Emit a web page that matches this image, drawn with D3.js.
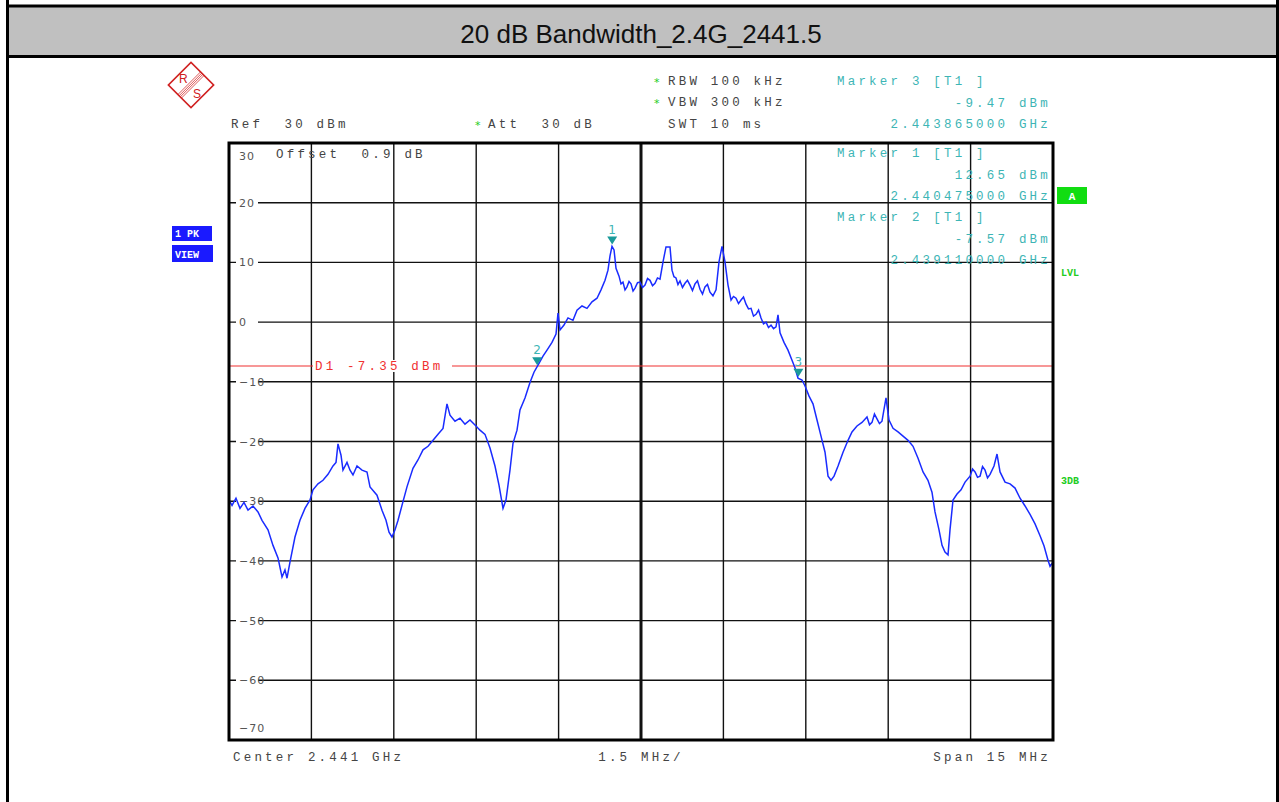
<!DOCTYPE html>
<html>
<head>
<meta charset="utf-8">
<script src="https://cdn.jsdelivr.net/npm/d3@7"></script>
<style>
  body { margin: 0; background: #fff; }
  svg { display: block; }
  .mono { font-family: "Liberation Mono", "DejaVu Sans Mono", monospace; font-size: 12.5px; letter-spacing: 3.2px; white-space: pre; }
</style>
</head>
<body>
<div id="chart"></div>
<script>
// Sweep settings
const centerMHz = 2441;
const spanMHz = 15;
const refLevel = 30;
const yTicks = [30, 20, 10, 0, -10, -20, -30, -40, -50, -60, -70];
const displayLine = -7.35;

// Trace (frequency in MHz, level in dBm)
const traceFreq = [
  2433.500, 2433.555, 2433.627, 2433.700, 2433.773, 2433.846, 2433.937, 2434.028, 2434.101, 2434.210,
  2434.301, 2434.392, 2434.465, 2434.519, 2434.556, 2434.610, 2434.701, 2434.792, 2434.883, 2434.975,
  2435.029, 2435.120, 2435.211, 2435.302, 2435.393, 2435.448, 2435.484, 2435.539, 2435.575, 2435.648,
  2435.703, 2435.757, 2435.830, 2435.921, 2436.012, 2436.067, 2436.194, 2436.285, 2436.358, 2436.413,
  2436.467, 2436.522, 2436.577, 2436.649, 2436.740, 2436.849, 2436.940, 2437.032, 2437.123, 2437.214,
  2437.305, 2437.396, 2437.468, 2437.523, 2437.614, 2437.705, 2437.796, 2437.887, 2437.996, 2438.069,
  2438.160, 2438.251, 2438.342, 2438.415, 2438.488, 2438.542, 2438.615, 2438.670, 2438.743, 2438.797,
  2438.888, 2438.979, 2439.052, 2439.125, 2439.216, 2439.289, 2439.380, 2439.453, 2439.489, 2439.526,
  2439.598, 2439.671, 2439.762, 2439.835, 2439.926, 2440.017, 2440.108, 2440.199, 2440.272, 2440.345,
  2440.399, 2440.436, 2440.472, 2440.509, 2440.545, 2440.600, 2440.636, 2440.672, 2440.709, 2440.745,
  2440.782, 2440.818, 2440.855, 2440.891, 2440.937, 2440.982, 2441.028, 2441.073, 2441.119, 2441.164,
  2441.210, 2441.255, 2441.300, 2441.346, 2441.401, 2441.455, 2441.528, 2441.564, 2441.600, 2441.637,
  2441.673, 2441.710, 2441.755, 2441.801, 2441.846, 2441.892, 2441.937, 2441.983, 2442.028, 2442.074,
  2442.120, 2442.165, 2442.210, 2442.256, 2442.310, 2442.366, 2442.420, 2442.475, 2442.529, 2442.584,
  2442.639, 2442.684, 2442.730, 2442.775, 2442.821, 2442.866, 2442.912, 2442.957, 2443.003, 2443.048,
  2443.094, 2443.140, 2443.185, 2443.230, 2443.276, 2443.321, 2443.367, 2443.412, 2443.458, 2443.494,
  2443.531, 2443.603, 2443.676, 2443.749, 2443.804, 2443.858, 2443.931, 2443.986, 2444.059, 2444.131,
  2444.204, 2444.277, 2444.350, 2444.405, 2444.459, 2444.514, 2444.587, 2444.678, 2444.769, 2444.841,
  2444.932, 2445.023, 2445.114, 2445.160, 2445.205, 2445.250, 2445.296, 2445.341, 2445.387, 2445.460,
  2445.515, 2445.588, 2445.679, 2445.770, 2445.861, 2445.952, 2446.043, 2446.134, 2446.224, 2446.297,
  2446.352, 2446.425, 2446.480, 2446.534, 2446.589, 2446.625, 2446.680, 2446.753, 2446.826, 2446.899,
  2446.990, 2447.035, 2447.081, 2447.126, 2447.172, 2447.217, 2447.263, 2447.308, 2447.354, 2447.426,
  2447.481, 2447.536, 2447.627, 2447.718, 2447.809, 2447.900, 2447.991, 2448.082, 2448.173, 2448.264,
  2448.337, 2448.409, 2448.446, 2448.500
];
const traceLevel = [
  -29.8, -30.7, -29.5, -31.2, -30.2, -31.5, -30.8, -31.8, -33.2, -34.8,
  -37.4, -39.5, -42.7, -41.5, -42.9, -40.2, -36.0, -33.2, -31.2, -29.8,
  -28.1, -27.1, -26.5, -25.5, -24.1, -23.5, -20.4, -22.3, -24.8, -23.5,
  -24.8, -25.6, -24.1, -24.8, -25.1, -27.6, -29.0, -31.5, -33.2, -35.2,
  -36.0, -34.8, -33.2, -30.7, -27.6, -24.5, -23.1, -21.4, -20.8, -19.8,
  -18.8, -17.8, -13.7, -15.6, -16.6, -16.1, -17.1, -16.4, -17.4, -18.1,
  -18.8, -21.1, -24.1, -27.3, -31.2, -29.8, -24.8, -20.3, -18.1, -14.7,
  -12.7, -10.1, -8.4, -7.2, -5.7, -4.7, -3.4, -2.0, 1.5, -1.3,
  -0.5, 0.7, 0.3, 2.0, 2.7, 2.3, 3.4, 4.0, 5.4, 7.0,
  8.7, 11.1, 12.7, 12.1, 9.0, 7.7, 6.4, 6.7, 5.4, 5.9,
  6.8, 6.4, 5.2, 5.7, 6.6, 6.7, 5.8, 6.2, 7.3, 7.0,
  6.1, 6.5, 7.4, 7.2, 10.1, 12.6, 12.6, 8.7, 7.6, 7.4,
  6.3, 6.9, 5.8, 6.5, 7.0, 6.2, 5.3, 6.4, 6.9, 5.5,
  4.7, 5.9, 6.3, 5.0, 4.4, 5.4, 10.1, 12.7, 10.1, 6.2,
  3.7, 4.3, 4.0, 3.1, 3.7, 4.2, 3.0, 2.2, 2.3, 1.0,
  1.3, 2.0, 0.7, -0.3, 0.0, -0.9, -0.5, -1.1, -0.8, 1.2,
  -1.8, -3.4, -4.7, -6.4, -7.7, -9.4, -9.7, -10.7, -12.4, -13.7,
  -16.4, -19.1, -21.8, -25.8, -26.5, -25.8, -24.1, -21.8, -19.8, -18.4,
  -17.4, -16.8, -15.9, -17.2, -16.8, -15.4, -16.2, -17.0, -16.6, -12.7,
  -16.4, -17.8, -18.4, -19.1, -19.8, -20.8, -22.8, -25.1, -26.5, -28.5,
  -31.8, -34.8, -37.4, -38.5, -39.0, -34.8, -29.8, -28.8, -28.1, -26.8,
  -25.8, -24.6, -25.1, -26.0, -25.8, -24.2, -24.8, -26.1, -25.5, -24.1,
  -22.1, -25.1, -26.8, -27.1, -27.8, -29.5, -30.8, -32.2, -33.8, -35.8,
  -37.5, -39.9, -40.9, -40.2
];

// Markers
const markerIds = ["1", "2", "3"];
const markerFreq = [2440.475, 2439.110, 2443.865];
const markerLevel = [12.65, -7.57, -9.47];
const markerOrder = [3, 1, 2];

const width = 1279, height = 802;
const plot = { left: 229, top: 143, right: 1053, bottom: 740 };
const teal = "#3db5b5", textGray = "#444";

const svg = d3.select("#chart").append("svg")
  .attr("width", width)
  .attr("height", height);

// Page frame and title band
svg.append("rect").attr("x", 7).attr("y", 6).attr("width", 1270).attr("height", 50)
  .attr("fill", "#c0c0c0");
svg.append("line").attr("x1", 7).attr("x2", 1279).attr("y1", 6).attr("y2", 6)
  .attr("stroke", "#000").attr("stroke-width", 3);
svg.append("line").attr("x1", 7).attr("x2", 1279).attr("y1", 56.5).attr("y2", 56.5)
  .attr("stroke", "#000").attr("stroke-width", 3);
svg.append("line").attr("x1", 7.5).attr("x2", 7.5).attr("y1", 0).attr("y2", height)
  .attr("stroke", "#000").attr("stroke-width", 3);
svg.append("line").attr("x1", 1277.5).attr("x2", 1277.5).attr("y1", 0).attr("y2", height)
  .attr("stroke", "#000").attr("stroke-width", 3);
svg.append("text")
  .attr("x", 641).attr("y", 43)
  .attr("text-anchor", "middle")
  .style("font-family", "'Liberation Sans', Arial, sans-serif")
  .style("font-size", "26px")
  .attr("fill", "#111")
  .text("20 dB Bandwidth_2.4G_2441.5");

// Scales
const x = d3.scaleLinear()
  .domain([centerMHz - spanMHz / 2, centerMHz + spanMHz / 2])
  .range([plot.left, plot.right]);
const y = d3.scaleLinear()
  .domain([-70, refLevel])
  .range([plot.bottom, plot.top]);

// Grid
const xGrid = d3.range(0, 11).map(i => x.domain()[0] + i * spanMHz / 10);
svg.append("g").selectAll("line")
  .data(xGrid.slice(1, -1))
  .join("line")
  .attr("x1", d => x(d)).attr("x2", d => x(d))
  .attr("y1", plot.top).attr("y2", plot.bottom)
  .attr("stroke", "#111")
  .attr("stroke-width", (d, i) => i === 4 ? 3 : 1.4);

svg.append("g").selectAll("line")
  .data(yTicks.slice(1, -1))
  .join("line")
  .attr("x1", plot.left).attr("x2", plot.right)
  .attr("y1", d => y(d)).attr("y2", d => y(d))
  .attr("stroke", "#111")
  .attr("stroke-width", 1.4);

// Y tick labels sitting on the grid
const yLab = svg.append("g");
yTicks.forEach(t => {
  let ty = y(t) + 4;
  if (t === 30) ty = y(t) + 17;
  if (t === -70) ty = y(t) - 8;
  if (t !== 30 && t !== -70) {
    yLab.append("rect").attr("x", 236).attr("y", y(t) - 6).attr("width", 22).attr("height", 12)
      .attr("fill", "#fff");
  }
  yLab.append("text")
    .attr("x", 239).attr("y", ty)
    .style("font-family", "'DejaVu Sans', sans-serif")
    .style("font-size", "11px")
    .style("letter-spacing", "1px")
    .attr("fill", "#555")
    .text(t < 0 ? "\u2212" + Math.abs(t) : t);
});

// Display line D1
svg.append("line")
  .attr("x1", plot.left).attr("x2", plot.right)
  .attr("y1", y(displayLine)).attr("y2", y(displayLine))
  .attr("stroke", "#f03030").attr("stroke-width", 1.2);
svg.append("rect").attr("x", 313).attr("y", y(displayLine) - 6).attr("width", 139).attr("height", 12)
  .attr("fill", "#fff");
svg.append("text").attr("class", "mono")
  .attr("x", 315).attr("y", y(displayLine) + 4)
  .attr("fill", "#f03030")
  .text("D1 -7.35 dBm");

// Trace
const trace = traceFreq.map((f, i) => ({ f: f, v: traceLevel[i] }));
svg.append("path")
  .datum(trace)
  .attr("fill", "none")
  .attr("stroke", "#1a2cff")
  .attr("stroke-width", 1.5)
  .attr("d", d3.line().x(d => x(d.f)).y(d => y(d.v)));

// Markers
markerIds.forEach((id, i) => {
  const mx = x(markerFreq[i]), my = y(markerLevel[i]);
  svg.append("path")
    .attr("d", `M${mx - 5},${my - 10}L${mx + 5},${my - 10}L${mx},${my - 2}Z`)
    .attr("fill", "#1a9a9a");
  svg.append("text")
    .attr("x", mx).attr("y", my - 13)
    .attr("text-anchor", "middle")
    .style("font-family", "'DejaVu Sans', sans-serif")
    .style("font-size", "12px")
    .attr("fill", teal)
    .text(id);
});

// Plot frame
svg.append("rect")
  .attr("x", plot.left).attr("y", plot.top)
  .attr("width", plot.right - plot.left).attr("height", plot.bottom - plot.top)
  .attr("fill", "none").attr("stroke", "#000").attr("stroke-width", 3);

// Instrument settings text
function mono(tx, ty, str, color, anchor) {
  svg.append("text").attr("class", "mono")
    .attr("x", tx).attr("y", ty)
    .attr("text-anchor", anchor || "start")
    .attr("fill", color || textGray)
    .text(str);
}
function star(tx, ty) {
  svg.append("text").attr("x", tx).attr("y", ty)
    .style("font-family", "'DejaVu Sans', sans-serif").style("font-size", "11px")
    .attr("fill", "#22cc22").text("*");
}
mono(231, 128, "Ref  30 dBm");
star(475, 129); mono(488, 128, "Att  30 dB");
star(654, 86); mono(668, 85, "RBW 100 kHz");
star(654, 107); mono(668, 106, "VBW 300 kHz");
mono(668, 128, "SWT 10 ms");
mono(276, 158, "Offset  0.9 dB");

// Marker readouts
const readY = [85, 157, 221];
markerOrder.forEach((m, k) => {
  const i = markerIds.indexOf(String(m));
  const y0 = readY[k];
  mono(837, y0, `Marker ${m} [T1 ]`, teal);
  mono(1051, y0 + 22, `${markerLevel[i].toFixed(2)} dBm`, teal, "end");
  mono(1051, y0 + 43, `${(markerFreq[i] / 1000).toFixed(9)} GHz`, teal, "end");
});

// Bottom annotations
mono(233, 761, `Center ${(centerMHz / 1000).toFixed(3)} GHz`);
mono(641, 761, `${spanMHz / 10} MHz/`, textGray, "middle");
mono(1051, 761, `Span ${spanMHz} MHz`, textGray, "end");

// Side boxes
function badge(bx, by, bw, bh, fill, str) {
  svg.append("rect").attr("x", bx).attr("y", by).attr("width", bw).attr("height", bh).attr("fill", fill);
  svg.append("text").attr("x", bx + 3).attr("y", by + bh - 4)
    .style("font-family", "'Liberation Mono', monospace").style("font-size", "10px")
    .style("font-weight", "bold").attr("fill", "#fff").text(str);
}
badge(172, 226, 40, 15, "#1a1aff", "1 PK");
badge(172, 245, 41, 17, "#1a1aff", "VIEW");
svg.append("rect").attr("x", 1057).attr("y", 187).attr("width", 30).attr("height", 17).attr("fill", "#11dd11");
svg.append("text").attr("x", 1072).attr("y", 200).attr("text-anchor", "middle")
  .style("font-family", "'Liberation Mono', monospace").style("font-size", "11px")
  .style("font-weight", "bold").attr("fill", "#fff").text("A");
[["LVL", 276], ["3DB", 484]].forEach(d => {
  svg.append("text").attr("x", 1061).attr("y", d[1])
    .style("font-family", "'Liberation Mono', monospace").style("font-size", "10px")
    .style("font-weight", "bold").attr("fill", "#22cc22").text(d[0]);
});

// R&S logo
const logo = svg.append("g").attr("transform", "translate(191,85) rotate(45)");
logo.append("rect").attr("x", -16).attr("y", -16).attr("width", 32).attr("height", 32)
  .attr("fill", "none").attr("stroke", "#d02020").attr("stroke-width", 1.6);
[-2.5, -0.8, 0.8, 2.5].forEach(o => {
  logo.append("line").attr("x1", o).attr("x2", o).attr("y1", -16).attr("y2", 16)
    .attr("stroke", "#d02020").attr("stroke-width", 0.7);
});
const logoText = svg.append("g")
  .style("font-family", "'Liberation Sans', sans-serif").style("font-size", "12px")
  .attr("fill", "#d02020");
logoText.append("text").attr("x", 179).attr("y", 83).text("R");
logoText.append("text").attr("x", 193).attr("y", 98).text("S");
</script>
</body>
</html>
